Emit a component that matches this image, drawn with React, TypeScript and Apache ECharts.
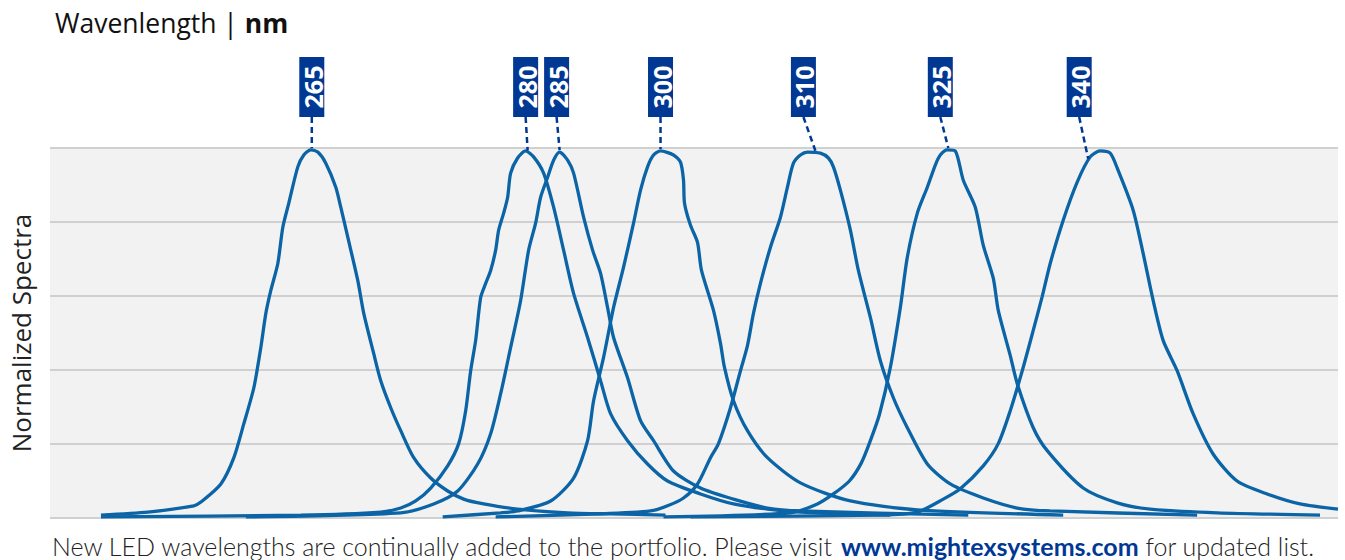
import React, { useEffect, useRef } from "react";
import * as echarts from "echarts";

// Wavelength labels (nm) of each LED spectrum
const wavelengths = ["265", "280", "285", "300", "310", "325", "340"];
// Horizontal position (axis units) of each label box
const labelPositions = [262, 476, 507, 611, 754, 891, 1030];
// Position on the curve that each label's leader line points to
const leaderTargets = [262, 478, 510, 611, 766, 899, 1039];

// Normalized spectra: [position, normalized intensity]
const s265 = [
  [51, 0.008], [98, 0.016], [144, 0.033], [151, 0.043], [171, 0.092], [184, 0.163], [194, 0.255],
  [204, 0.352], [211, 0.461], [216, 0.553], [221, 0.615], [228, 0.688], [233, 0.786], [239, 0.851],
  [248, 0.949], [254, 0.981], [261, 0.995], [268, 0.989], [276, 0.959], [286, 0.894], [291, 0.84],
  [298, 0.759], [308, 0.642], [314, 0.553], [324, 0.444], [331, 0.371], [341, 0.298], [351, 0.236],
  [364, 0.163], [381, 0.108], [398, 0.073], [414, 0.051], [434, 0.038], [468, 0.024], [518, 0.014],
  [561, 0.011], [616, 0.008],
];
const s280 = [
  [51, 0.003], [251, 0.008], [331, 0.016], [351, 0.027], [366, 0.046], [381, 0.081], [398, 0.141],
  [409, 0.201], [416, 0.29], [421, 0.398], [426, 0.48], [431, 0.596], [436, 0.634], [441, 0.669],
  [446, 0.724], [449, 0.778], [454, 0.824], [458, 0.867], [461, 0.932], [468, 0.973], [476, 0.992],
  [484, 0.976], [494, 0.932], [504, 0.84], [514, 0.724], [524, 0.607], [538, 0.488], [551, 0.371],
  [561, 0.282], [578, 0.209], [598, 0.146], [618, 0.1], [651, 0.065], [684, 0.038], [718, 0.024],
  [751, 0.016], [841, 0.008],
];
const s285 = [
  [196, 0.003], [351, 0.014], [384, 0.038], [408, 0.073], [428, 0.146], [441, 0.228], [451, 0.336],
  [461, 0.461], [471, 0.588], [479, 0.724], [486, 0.797], [491, 0.867], [498, 0.921], [504, 0.967],
  [510, 0.989], [518, 0.967], [524, 0.932], [534, 0.813], [543, 0.724], [551, 0.661], [558, 0.569],
  [564, 0.488], [578, 0.379], [591, 0.263], [604, 0.209], [624, 0.127], [651, 0.081], [684, 0.051],
  [718, 0.027], [751, 0.019], [919, 0.008],
];
const s300 = [
  [393, 0.003], [451, 0.014], [468, 0.019], [501, 0.046], [524, 0.108], [538, 0.209], [544, 0.317],
  [554, 0.434], [564, 0.569], [574, 0.678], [584, 0.797], [591, 0.886], [598, 0.949], [604, 0.981],
  [611, 0.992], [624, 0.981], [631, 0.962], [634, 0.913], [635, 0.851], [641, 0.791], [648, 0.745],
  [652, 0.669], [664, 0.561], [671, 0.472], [675, 0.407], [684, 0.317], [698, 0.236], [718, 0.163],
  [751, 0.095], [801, 0.046], [868, 0.022], [1014, 0.008],
];
const s310 = [
  [446, 0.003], [551, 0.011], [601, 0.019], [618, 0.033], [634, 0.054], [648, 0.092], [661, 0.163],
  [669, 0.201], [681, 0.298], [691, 0.398], [698, 0.466], [704, 0.553], [711, 0.634], [721, 0.732],
  [731, 0.813], [738, 0.894], [744, 0.959], [751, 0.981], [758, 0.989], [771, 0.986], [779, 0.973],
  [784, 0.949], [791, 0.886], [801, 0.778], [809, 0.669], [821, 0.542], [831, 0.425], [844, 0.325],
  [858, 0.244], [878, 0.146], [901, 0.092], [934, 0.054], [968, 0.027], [1001, 0.019], [1148, 0.008],
];
const s325 = [
  [614, 0.003], [741, 0.014], [768, 0.038], [784, 0.065], [800, 0.1], [812, 0.149], [821, 0.209],
  [830, 0.279], [841, 0.407], [851, 0.569], [858, 0.705], [868, 0.824], [878, 0.894], [886, 0.954],
  [891, 0.981], [898, 0.995], [906, 0.992], [914, 0.913], [926, 0.84], [934, 0.737], [944, 0.648],
  [949, 0.561], [961, 0.439], [968, 0.363], [984, 0.244], [998, 0.182], [1034, 0.081], [1068, 0.041],
  [1101, 0.024], [1168, 0.014], [1271, 0.008],
];
const s340 = [
  [641, 0.003], [831, 0.008], [868, 0.016], [894, 0.051], [911, 0.079], [934, 0.141], [949, 0.201],
  [961, 0.29], [973, 0.398], [984, 0.507], [993, 0.599], [1001, 0.688], [1014, 0.805], [1028, 0.908],
  [1041, 0.976], [1051, 0.992], [1061, 0.986], [1068, 0.946], [1084, 0.832], [1094, 0.715],
  [1104, 0.588], [1114, 0.48], [1128, 0.398], [1144, 0.282], [1164, 0.173], [1188, 0.1], [1218, 0.065],
  [1251, 0.038], [1289, 0.024],
];
const spectra = [s265, s280, s285, s300, s310, s325, s340];

const LINE_COLOR = "#0b64a6";
const LABEL_COLOR = "#003894";

function valueAt(data: number[][], x: number): number {
  for (let i = 0; i < data.length - 1; i++) {
    const [x0, y0] = data[i];
    const [x1, y1] = data[i + 1];
    if (x >= x0 && x <= x1) return y0 + ((y1 - y0) * (x - x0)) / (x1 - x0);
  }
  return 0;
}

export default function App() {
  const ref = useRef<HTMLDivElement>(null);
  useEffect(() => {
    if (!ref.current) return;
    const chart = echarts.init(ref.current, undefined, { renderer: "svg" });
    chart.setOption({
      animation: false,
      title: [
        {
          left: 50,
          top: 4,
          text: "{a|Wavenlength | }{b|nm}",
          textStyle: {
            rich: {
              a: { fontFamily: "Open Sans", fontSize: 26.5, color: "#111", fontWeight: "normal" },
              b: { fontFamily: "Open Sans", fontSize: 26.5, color: "#111", fontWeight: "bold" },
            },
          },
        },
        {
          left: 47,
          top: 528,
          text: "{a|New LED wavelengths are continually added to the portfolio. Please visit }{b|www.mightexsystems.com}{a| for updated list.}",
          textStyle: {
            rich: {
              a: { fontFamily: "Lato", fontSize: 25, color: "#222", fontWeight: 300 },
              b: { fontFamily: "Lato", fontSize: 25, color: LABEL_COLOR, fontWeight: "bold" },
            },
          },
        },
      ],
      grid: {
        left: 49,
        right: 7,
        top: 148,
        bottom: 42,
        show: true,
        backgroundColor: "#f2f2f2",
        borderWidth: 0,
      },
      xAxis: {
        type: "value",
        min: 0,
        max: 1289,
        show: false,
        splitLine: { show: false },
      },
      yAxis: {
        type: "value",
        min: 0,
        max: 1,
        interval: 0.2,
        name: "Normalized Spectra",
        nameLocation: "middle",
        nameGap: 16,
        nameRotate: 90,
        nameTextStyle: { fontFamily: "Open Sans", fontSize: 26, color: "#222" },
        axisLine: { show: false },
        axisTick: { show: false },
        axisLabel: { show: false },
        splitLine: { lineStyle: { color: "#d0d0d0", width: 2 } },
      },
      series: spectra.map((d, i) => ({
        type: "line",
        name: wavelengths[i],
        data: d,
        showSymbol: false,
        smooth: 0.25,
        silent: true,
        lineStyle: { color: LINE_COLOR, width: 3.3 },
        itemStyle: { color: LINE_COLOR },
      })),
    });

    const graphics: any[] = [];
    wavelengths.forEach((w, i) => {
      const cx = chart.convertToPixel({ gridIndex: 0 }, [labelPositions[i], 1])[0];
      const target = chart.convertToPixel({ gridIndex: 0 }, [
        leaderTargets[i],
        valueAt(spectra[i], leaderTargets[i]),
      ]);
      const boxTop = 57;
      const boxH = 60;
      const boxW = 25;
      graphics.push({
        type: "line",
        shape: { x1: cx, y1: boxTop + boxH, x2: target[0], y2: target[1] - 2 },
        style: { stroke: LABEL_COLOR, lineWidth: 2.5, lineDash: [6, 4] },
        z: 10,
      });
      graphics.push({
        type: "rect",
        shape: { x: cx - boxW / 2, y: boxTop, width: boxW, height: boxH },
        style: { fill: LABEL_COLOR },
        z: 11,
      });
      graphics.push({
        type: "text",
        x: cx + 1,
        y: boxTop + boxH / 2,
        rotation: Math.PI / 2,
        style: {
          text: w,
          fill: "#ffffff",
          font: 'bold 25px "Open Sans"',
          textAlign: "center",
          textVerticalAlign: "middle",
        },
        z: 12,
      });
    });
    chart.setOption({ graphic: graphics });

    return () => chart.dispose();
  }, []);
  return (
    <div
      ref={ref}
      style={{ position: "fixed", left: 0, top: 0, width: 1345, height: 560, background: "#fff" }}
    />
  );
}
